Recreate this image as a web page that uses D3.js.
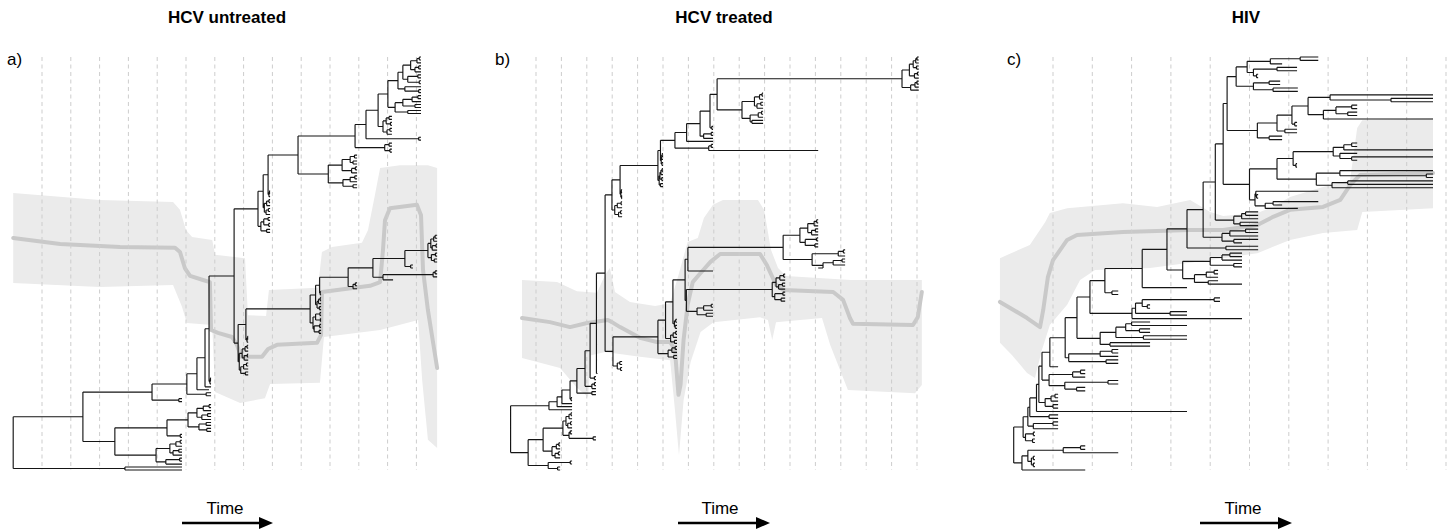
<!DOCTYPE html>
<html><head><meta charset="utf-8">
<script src="https://cdn.jsdelivr.net/npm/d3@7"></script>
<style>body{margin:0;background:#fff}svg{display:block}</style>
</head><body>
<svg id="chart" width="1448" height="529"></svg>
<script>
// ---------------- DATA ----------------
const titles = ["HCV untreated", "HCV treated", "HIV"];
const labels = ["a)", "b)", "c)"];
const gridCounts = [14, 16, 11];   // dashed time gridlines (time units)

// Tree A (HCV untreated): clades written as Newick with absolute node times
const a_T1 = "(((((:14.16,:14.16):14.1,:14.16):14.02,((:14.16,:14.16):14.08,:14.16):13.95):13.8,((:14.16,:14.16):14.05,(:14.16,:14.16):14.1):13.7):13.53,(:14.16,(:14.16,:14.16):14.08):13.6):13.36";
const a_T2 = "((((:14.16,:14.16):14.05,:14.16):13.85,(:14.16,:14.16):13.95):13.53,(:14.16,:14.16):13.7):13.26";
const a_T3 = "(((:13.15,:13.15):13.05,(:13.15,:13.15):13.1):12.95,((:13.15,:13.15):13.08,:13.15):12.98):12.84";
const a_T4 = "(:14.16,:14.16):14.08";
const a_T5 = "((:13.15,:13.15):13.05,(:13.15,:13.15):13.08):12.9";
const a_T = "((((" + a_T1 + "," + a_T2 + "):13.01," + a_T3 + "):12.67," + a_T4 + "):12.25," + a_T5 + "):11.87";
const a_M = "((((:11.94,:11.94):11.85,(:11.94,:11.94):11.8):11.7,((:11.94,:11.94):11.88,:11.94):11.75):11.42,(((:11.94,:11.94):11.86,:11.94):11.7,(:11.94,:11.94):11.8):11.45):10.94";
const a_P = "(" + a_T + "," + a_M + "):9.89";
const a_K1a = "((:8.92,:8.92):8.9,:8.92):8.88";
const a_K1c = "(((:8.92,:8.92):8.88,:8.92):8.8,((:8.92,:8.92):8.86,:8.92):8.78):8.72";
const a_K1b = "(((:8.92,:8.92):8.85,(:8.92,:8.92):8.87):8.7,(:8.92,:8.92):8.8):8.6";
const a_R = "(((" + a_P + "," + a_K1a + "):8.85," + a_K1c + "):8.68," + a_K1b + "):8.5";
const a_a0 = "((((:14.72,:14.72):14.65,:14.72):14.6,((:14.72,:14.72):14.68,:14.72):14.55):14.5,((:14.72,:14.72):14.66,(:14.72,:14.72):14.62):14.52):14.4";
const a_O = "(" + a_a0 + ",(:13.88,:13.88):13.8):13.6";
const a_Nlow = "(((:14.72,:14.72):14.65,:14.72):14.58,:13.19):12.84";
const a_N = "(" + a_O + "," + a_Nlow + "):12.49";
const a_L = "(" + a_N + ",((:11.94,:11.94):11.88,:11.94):11.8):11.63";
const a_Ka = "(" + a_L + ",(:10.69,:10.69):10.66):10.64";
const a_Kb = "(((:10.69,:10.69):10.66,:10.69):10.6,(:10.69,:10.69):10.63):10.55";
const a_Kc = "(((:10.69,:10.69):10.65,(:10.69,:10.69):10.67):10.5,((:10.69,:10.69):10.64,(:10.69,:10.69):10.62):10.45):10.41";
const a_K = "((" + a_Ka + "," + a_Kb + "):10.5," + a_Kc + "):10.31";
const a_J = "(" + a_K + ",((:8.16,:8.16):8.14,:8.16):8.12):8.08";
const a_Irest = "((((:8.16,:8.16):8.12,:8.16):8.05,((:8.16,:8.16):8.13,:8.16):8.02):7.95,(((:8.16,:8.16):8.1,:8.16):8.0,(:8.16,:8.16):8.06):7.9):7.85";
const a_H = "(" + a_R + ",(" + a_J + "," + a_Irest + "):7.81):7.67";
const a_G = "(" + a_H + ",((:6.87,:6.87):6.85,:6.87):6.83):6.8";
const a_D = "(((" + a_G + ",:6.87):6.66,:6.8):6.38,(:6.87,:6.87):6.7):6.03";
const a_B = "(" + a_D + ",(:5.86,:5.86):5.75):4.82";
const a_C1 = "(((((:6.87,:6.87):6.8,:6.87):6.6,((:6.87,:6.87):6.75,:6.87):6.55):6.38,((:6.87,:6.87):6.7,(:6.87,:6.87):6.72):6.45):6.07,(:5.86,:5.86):5.8):5.34";
const a_C2 = "((((:5.86,:5.86):5.8,:5.86):5.65,((:5.86,:5.86):5.75,:5.86):5.55):5.44,((:5.86,:5.86):5.78,:5.86):5.3):4.96";
const treeA = "((" + a_B + ",(" + a_C1 + "," + a_C2 + "):3.53):2.42,(:5.86,:5.86):3.88):0";

// Tree B (HCV treated)
const b_S5 = "(((((:16.07,:16.07):16.0,:16.07):15.95,(:16.07,:16.07):15.98):15.85,((:16.07,:16.07):16.02,:16.07):15.9):15.7,(((:16.07,:16.07):16.0,:16.07):15.92,:16.07):15.75):15.41";
const b_S4 = "((((:9.94,:9.94):9.9,:9.94):9.8,((:9.94,:9.94):9.85,:9.94):9.7):9.6,(((:9.94,:9.94):9.88,:9.94):9.75,(:9.94,:9.94):9.5):9.43):9.11";
const b_n710 = "((" + b_S5 + "," + b_S4 + "):8.13,(:7.97,:7.97):7.92):7.85";
const b_S3 = "(((" + b_n710 + ",((:7.97,:7.97):7.9,:7.97):7.6):7.46,:7.97):6.93,((:7.97,:7.97):7.9,:12.11):7.8):6.47";
const b_S2 = "((" + b_S3 + ",(((:6.0,:6.0):5.97,:6.0):5.95,(:6.0,:6.0):5.96):5.93):5.9,((((:6.0,:6.0):5.97,:6.0):5.92,(:6.0,:6.0):5.95):5.88,(:6.0,:6.0):5.9):5.85):5.8";
const b_S1 = "((" + b_S2 + ",((:4.39,:4.39):4.36,(:4.39,:4.39):4.37):4.34):4.31,(((:4.39,:4.39):4.35,:4.39):4.2,((:4.39,:4.39):4.33,:4.39):4.25):4.1):3.99";
const b_Y800 = "((((:12.11,:12.11):12.05,:12.11):11.95,((:12.11,:12.11):12.0,:12.11):11.85):11.7,((:12.11,:12.11):12.05,(:12.11,:12.11):11.98):11.6):11.39";
const b_Y812 = "(((:13.17,:13.17):13.1,:13.17):12.9,(((:13.17,:13.17):13.05,:13.17):12.7,:12.11):12.3):11.87";
const b_Y772 = "((((:10.81,:10.81):10.75,:10.81):10.6,((:10.81,:10.81):10.7,:10.81):10.55):10.45,((:10.81,:10.81):10.72,(:10.81,:10.81):10.65):10.4):10.3";
const b_Y697 = "(((:7.97,:7.97):7.9,:7.97):7.6,(:7.97,:7.97):7.7):7.34";
const b_Y = "(((" + b_Y800 + "," + b_Y812 + "):10.73,:7.97):6.98,(" + b_Y772 + "," + b_Y697 + "):6.92):6.87";
const b_X = "(((" + b_Y + ",((:6.55,:6.55):6.5,(:6.55,:6.55):6.48):6.45):6.39,(((:6.55,:6.55):6.5,:6.55):6.4,(:6.55,:6.55):6.45):6.3):6.1,(((:6.55,:6.55):6.48,:6.55):6.35,(:6.55,:6.55):6.42):6.2):5.8";
const b_U = "(" + b_S1 + ",(" + b_X + ",((:4.39,:4.39):4.3,(:4.39,:4.39):4.33):4.2):4.03):3.72";
const b_Z = "((((" + b_U + ",:3.42):3.38,(:3.36,:3.36):3.3):3.13,((:3.36,:3.36):3.3,:3.36):3.2):2.93,(:3.36,:3.36):3.2):2.61";
const b_W = "((((" + b_Z + ",(:2.42,:2.42):2.38):2.34,:2.42):2.02,:2.42):1.83,:2.42):1.51";
const b_Bot = "((((((:2.42,:2.42):2.38,:2.42):2.3,((:2.42,:2.42):2.36,:2.42):2.25):2.18,((:2.42,:2.42):2.35,(:3.36,:3.36):3.25):2.3):2.06,(((:1.95,:1.95):1.9,:1.95):1.8,((:1.95,:1.95):1.88,:1.95):1.75):1.63):1.28,((:2.42,:2.42):2.35,(:1.95,:1.95):1.85):1.48):0.69";
const treeB = "(" + b_W + "," + b_Bot + "):0";

// Tree C (HIV)
const c_TC = "((((:7.75,:7.75):7.29,:6.83):6.53,((:7.21,:7.21):6.7,(:6.22,:6.22):6.18):6.1):5.94,((:6.78,:6.78):6.5,(:7.23,:7.23):6.6):6.1):5.66";
const c_MCd = "((:10.67,(:10.67,:10.67):9.6):8.05,(((:8.74,:8.74):8.6,(:8.74,:8.74):8.5):8.2,:10.67):7.88):7.49";
const c_MC = "(((" + c_MCd + ",(:7.21,:7.21):7.15):7.08,(:7.21,:7.21):6.9):6.7,(:6.83,:6.83):6.5):6.2";
const c_G4 = "(((:8.74,:8.74):8.6,:10.67):8.4,(:8.74,(:10.67,:8.74):8.6):8.3):8.13";
const c_Long = "((:10.67,(:10.67,:10.67):10.5):8.3,((:10.67,:10.67):8.5,:10.67):8.1):7.7";
const c_Glow = "((:7.75,(:6.22,:6.22):6.18):6.16,((:7.75,:6.83):6.6,:7.23):6.4):6.14";
const c_gamma = "(((" + c_G4 + ",(:7.21,:7.21):7.18):7.11," + c_Long + "):6.7," + c_Glow + "):6.0";
const c_alpha = "((" + c_TC + "," + c_MC + "):5.43," + c_gamma + "):5.33";
const c_side = [ // side clades hanging off the backbone, top to bottom, with backbone node times
  ["(((:6.22,:6.22):5.9,:6.22):5.8,(:6.22,:6.22):5.76):5.6", 5.13],
  ["(((:6.22,:6.22):5.9,:6.22):5.5,(:6.22,:5.81):5.6):5.3", 4.82],
  ["(:6.22,:6.22):5.4", 4.41],
  ["((((:5.81,:5.81):5.5,:5.81):5.3,(:5.81,:5.81):5.6):5.0,(((:5.2,:5.2):5.1,:5.2):4.9,(:5.2,:5.81):4.95):4.6):4.3", 3.9],
  [":4.41", 3.27],
  ["(:2.66,:2.66):2.5", 2.32],
  ["((((:5.25,:5.25):5.1,(:3.47,:3.47):3.4):3.27,(:4.41,:4.41):3.98):3.1,:5.81):3.01", 1.94],
  ["((((:3.47,:4.41):3.0,(:3.47,:3.47):3.2):2.85,(:4.41,:4.41):3.3):2.6,(:3.47,:3.47):2.45):2.2", 1.61],
  ["(((:2.66,:2.66):2.5,:2.66):2.2,(:2.66,:2.66):2.35):1.4", 1.31],
  [":1.13", 0.92],
  ["(((:1.82,:1.82):1.7,:1.82):1.5,((:2.66,:2.66):2.4,(:1.82,:1.82):1.6):1.3):0.9", 0.72],
  ["(((:1.13,:1.13):1.05,:1.13):0.95,(:1.13,:1.13):1.0):0.8", 0.64],
  [":4.41", 0.58],
  ["(:1.13,:1.13):0.9", 0.41],
  ["((:1.13,:1.13):1.0,:1.13):0.5", 0.36],
  ["((:0.54,:0.54):0.5,(:0.54,:0.54):0.48):0.3", 0.24]
];
const c_low = "((((:1.82,:1.82):1.7,:2.66):1.26,((:0.54,:0.54):0.5,(:0.54,:0.54):0.5):0.45):0.36,:1.82):0.21";
let c_spine = c_alpha;
c_side.forEach(([clade, t]) => { c_spine = "(" + c_spine + "," + clade + "):" + t; });
const treeC = "(" + c_spine + "," + c_low + "):0";

// Rate-estimate ribbons (time, value) and median line
const lineA = [[0,5.62],[1.63,5.47],[3.71,5.40],[5.62,5.38],[5.79,5.28],[5.96,4.89],[6.14,4.70],[6.59,4.60],[6.83,4.55],[6.87,3.39],[7.11,3.32],[7.6,3.22],[7.77,3.03],[7.91,2.74],[8.64,2.74],[8.85,2.93],[9.16,3.03],[10.55,3.08],[10.69,3.27],[10.72,4.31],[11.52,4.38],[12.39,4.46],[12.74,4.55],[12.84,5.33],[12.91,6.05],[13.08,6.34],[14.02,6.42],[14.16,6.17],[14.23,4.84],[14.4,3.87],[14.72,2.47]];
const bandUpA = [[0,6.71],[3.01,6.54],[5.55,6.49],[5.79,6.30],[6.0,5.81],[6.21,5.64],[6.91,5.57],[7.01,5.21],[8.05,5.13],[8.15,3.75],[8.78,3.73],[8.88,4.36],[10.58,4.41],[10.72,5.28],[11.07,5.40],[12.11,5.50],[12.32,5.81],[12.56,6.66],[12.74,7.31],[13.43,7.38],[14.4,7.38],[14.72,7.31]];
const bandLoA = [[0,4.53],[3.01,4.43],[5.55,4.48],[5.86,3.95],[6.03,3.56],[6.91,3.51],[7.01,1.89],[7.88,1.62],[8.74,1.74],[8.92,2.08],[10.65,2.11],[10.79,3.22],[12.74,3.39],[14.06,3.63],[14.2,2.18],[14.4,0.73],[14.72,0.53]];
const lineB = [[0.45,3.68],[1.55,3.58],[2.34,3.46],[3.01,3.56],[3.83,3.63],[3.99,3.58],[4.31,3.46],[5.09,3.20],[5.76,3.10],[6.28,3.10],[6.47,2.91],[6.61,1.82],[6.69,2.06],[6.81,3.15],[6.97,4.0],[7.17,4.55],[7.48,4.77],[7.87,5.04],[8.25,5.23],[9.82,5.23],[10.09,4.96],[10.45,4.48],[10.73,4.36],[12.7,4.31],[13.09,4.12],[13.36,3.68],[13.48,3.54],[15.84,3.51],[16.03,3.70],[16.19,4.31]];
const bandUpB = [[0.45,4.60],[1.83,4.55],[2.61,4.33],[3.4,4.29],[3.72,4.72],[3.91,4.89],[4.11,4.31],[4.7,4.07],[5.69,3.97],[6.28,4.04],[6.61,4.72],[6.97,5.52],[7.37,5.62],[7.61,6.10],[7.97,6.42],[8.36,6.54],[9.74,6.54],[9.98,6.30],[10.25,5.33],[10.53,4.89],[10.84,4.70],[13.4,4.60],[16.19,4.60]];
const bandLoB = [[0.45,2.71],[1.95,2.47],[2.61,1.99],[3.05,1.77],[3.17,2.78],[3.72,2.86],[5.09,2.74],[6.28,2.66],[6.47,1.45],[6.63,0.36],[6.81,1.69],[7.09,2.62],[7.48,3.34],[7.99,3.58],[9.82,3.70],[10.13,3.63],[10.3,3.15],[10.45,3.58],[12.26,3.68],[12.58,3.03],[13.28,1.94],[15.92,1.86],[16.19,2.06]];
const lineC = [[-0.35,4.07],[0.34,3.68],[0.67,3.46],[0.75,3.87],[0.87,4.67],[1.0,5.08],[1.36,5.57],[1.61,5.69],[2.78,5.76],[4.49,5.81],[5.33,5.81],[6.2,5.93],[6.6,6.13],[7.03,6.30],[7.87,6.37],[8.31,6.54],[8.56,6.90],[8.81,7.14],[10.67,7.19]];
const bandUpC = [[-0.35,5.13],[0.41,5.45],[0.8,6.0],[0.92,6.22],[1.36,6.34],[2.78,6.46],[3.65,6.37],[4.49,6.54],[5.0,6.25],[5.33,6.15],[6.2,6.22],[6.6,6.37],[7.03,6.61],[7.87,6.85],[8.56,7.02],[8.74,8.28],[8.87,8.47],[10.67,8.52]];
const bandLoC = [[-0.35,3.08],[-0.04,2.78],[0.34,2.35],[0.54,2.23],[0.72,2.91],[0.92,3.51],[1.36,4.0],[1.69,4.60],[2.07,4.84],[3.47,4.89],[5.33,5.13],[6.2,5.25],[7.03,5.57],[7.87,5.74],[8.74,5.81],[8.87,6.25],[10.67,6.34]];

// ---------------- LAYOUT ----------------
const panels = [
  {tree: treeA, line: lineA, up: bandUpA, lo: bandLoA, xr: [13.2, 416.4], titleX: 227, labelX: 7, timeX: 225, arrow: [182, 273]},
  {tree: treeB, line: lineB, up: bandUpB, lo: bandLoB, xr: [510.6, 917], titleX: 724, labelX: 495, timeX: 720, arrow: [678, 770]},
  {tree: treeC, line: lineC, up: bandUpC, lo: bandLoC, xr: [1013.7, 1446], titleX: 1246, labelX: 1007, timeX: 1243, arrow: [1200, 1292]}
];
const TOP = 57, BOT = 470;

function parseTree(s) {
  let i = 0;
  function node() {
    const n = {children: []};
    if (s[i] === "(") {
      i++;
      n.children.push(node());
      while (s[i] === ",") { i++; n.children.push(node()); }
      i++;
    }
    if (s[i] === ":") {
      i++;
      const j = i;
      while (i < s.length && /[-0-9.]/.test(s[i])) i++;
      n.t = parseFloat(s.slice(j, i));
    }
    return n;
  }
  return node();
}

const svg = d3.select("#chart");
const font = "'Liberation Sans', Arial, Helvetica, sans-serif";

panels.forEach((p, k) => {
  const g = svg.append("g");
  const x = d3.scaleLinear().domain([0, gridCounts[k]]).range(p.xr);
  const yv = d3.scaleLinear().domain([0, 10]).range([BOT, TOP]);

  // ribbon
  const poly = p.up.map(d => [x(d[0]), yv(d[1])]).concat(p.lo.slice().reverse().map(d => [x(d[0]), yv(d[1])]));
  g.append("path").attr("d", d3.line().curve(d3.curveLinearClosed)(poly))
    .attr("fill", "#ebebeb").attr("stroke", "none");
  g.append("path").attr("d", d3.line().x(d => x(d[0])).y(d => yv(d[1])).curve(d3.curveLinear)(p.line))
    .attr("fill", "none").attr("stroke", "#c9c9c9").attr("stroke-width", 4)
    .attr("stroke-linejoin", "round").attr("stroke-linecap", "round");

  // gridlines
  g.append("g").selectAll("line").data(d3.range(1, gridCounts[k] + 1)).join("line")
    .attr("x1", d => x(d)).attr("x2", d => x(d)).attr("y1", TOP).attr("y2", BOT)
    .attr("stroke", "#cdcdcd").attr("stroke-width", 1).attr("stroke-dasharray", "4,3.5");

  // tree
  const root = d3.hierarchy(parseTree(p.tree), d => d.children.length ? d.children : null);
  const leaves = root.leaves();
  const yl = d3.scaleLinear().domain([0, leaves.length - 1]).range([TOP, BOT]);
  leaves.forEach((l, i) => l.py = yl(i));
  root.eachAfter(n => {
    if (n.children) n.py = (n.children[0].py + n.children[n.children.length - 1].py) / 2;
  });
  let d = "";
  root.each(n => {
    const nx = x(n.data.t);
    if (n.parent) d += `M${x(n.parent.data.t).toFixed(2)},${n.py.toFixed(2)}H${nx.toFixed(2)}`;
    if (n.children) d += `M${nx.toFixed(2)},${n.children[0].py.toFixed(2)}V${n.children[n.children.length - 1].py.toFixed(2)}`;
  });
  g.append("path").attr("d", d).attr("fill", "none").attr("stroke", "#151515").attr("stroke-width", 1.15);

  // texts
  g.append("text").attr("x", p.titleX).attr("y", 23).attr("text-anchor", "middle")
    .attr("font-family", font).attr("font-weight", "bold").attr("font-size", 17).text(titles[k]);
  g.append("text").attr("x", p.labelX).attr("y", 65).attr("font-family", font)
    .attr("font-size", 17).text(labels[k]);
  g.append("text").attr("x", p.timeX).attr("y", 514).attr("text-anchor", "middle")
    .attr("font-family", font).attr("font-size", 17).text("Time");
  const [a0, a1] = p.arrow;
  g.append("line").attr("x1", a0).attr("x2", a1 - 10).attr("y1", 523).attr("y2", 523)
    .attr("stroke", "#000").attr("stroke-width", 2.5);
  g.append("path").attr("d", `M${a1},523L${a1 - 14},517L${a1 - 14},529Z`).attr("fill", "#000");
});
</script>
</body></html>
